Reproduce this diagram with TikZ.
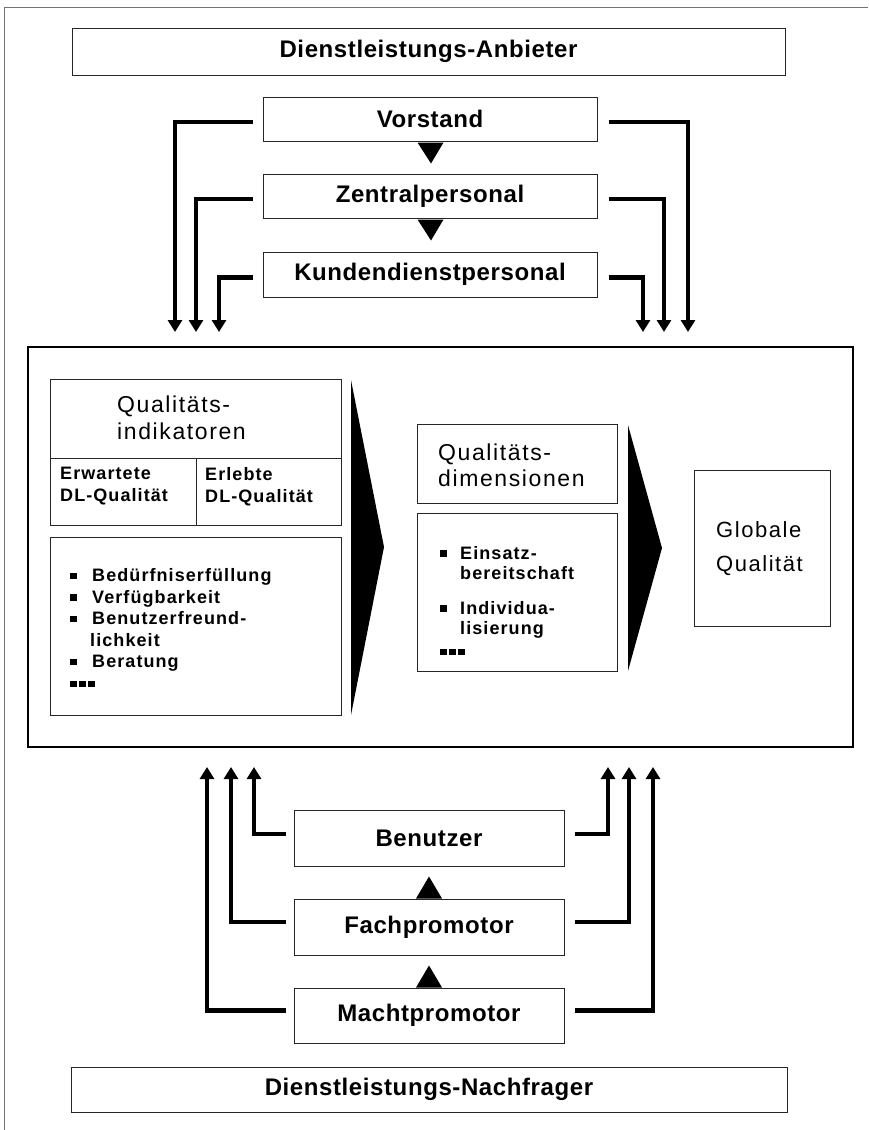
\documentclass[tikz,border=0pt]{standalone}
\usepackage{fontspec}
\setmainfont{Liberation Sans}
\newfontfamily\wide[LetterSpace=7]{Liberation Sans}
\newfontfamily\wideb[LetterSpace=6]{Liberation Sans}
\newfontfamily\lblfont[LetterSpace=2.5]{Liberation Sans}
\usetikzlibrary{arrows.meta,calc}
\newcommand\qbul{\makebox[22pt][l]{\rule[2.5pt]{6.5pt}{6.5pt}}}
\newcommand\qbulb{\makebox[20pt][l]{\rule[2.5pt]{6.5pt}{6.5pt}}}
\newcommand\qdots{\rule[2pt]{7pt}{6pt}\hspace{2pt}\rule[2pt]{7pt}{6pt}\hspace{2pt}\rule[2pt]{7pt}{6pt}}
\begin{document}
\begin{tikzpicture}[x=1pt,y=-1pt,
  box/.style={draw=black!85, line width=1pt, inner sep=0pt},
  lbl/.style={font=\lblfont\fontsize{24}{28}\selectfont\bfseries},
  txt/.style={anchor=north west, inner sep=0pt, align=left},
  fb/.style={line width=4.5pt, -{Triangle[width=14pt,length=12pt]}, miter limit=10},
  tri/.style={fill=black}
]
\useasboundingbox (0,0) rectangle (868,1130);
% page frame
\draw[black!55, line width=0.8pt] (4,1130) -- (4,7) -- (868,7);

% provider side
\node[box,lbl,minimum width=713pt,minimum height=47pt] (anb) at (428.5,51.5) {Dienstleistungs-Anbieter};
\node[box,lbl,minimum width=334pt,minimum height=44pt] (vor) at (430,119) {Vorstand};
\node[box,lbl,minimum width=334pt,minimum height=44pt] (zen) at (430,196) {Zentralpersonal};
\node[box,lbl,minimum width=334pt,minimum height=45pt] (kun) at (430,274.5) {Kundendienstpersonal};

\fill[tri] ($(vor.south)+(-12.5,1)$) -- ($(vor.south)+(13.5,1)$) -- ($(vor.south)+(1,22)$) -- cycle;
\fill[tri] ($(zen.south)+(-12.5,1)$) -- ($(zen.south)+(13.5,1)$) -- ($(zen.south)+(1,22)$) -- cycle;

\coordinate (tl1) at (175,332);
\coordinate (tl2) at (196,332);
\coordinate (tl3) at (219,332);
\coordinate (tr1) at (688,332);
\coordinate (tr2) at (664,332);
\coordinate (tr3) at (643,332);
\draw[fb] ($(vor.west)+(-10,3)$) -| (tl1);
\draw[fb] ($(zen.west)+(-10,3)$) -| (tl2);
\draw[fb] ($(kun.west)+(-10,3)$) -| (tl3);
\draw[fb] ($(vor.east)+(11,3)$) -| (tr1);
\draw[fb] ($(zen.east)+(11,3)$) -| (tr2);
\draw[fb] ($(kun.east)+(11,3)$) -| (tr3);

% main frame
\node[draw, line width=2.5pt, minimum width=825pt, minimum height=400pt, inner sep=0pt] (main) at (440.5,547) {};

% indicators
\node[box,minimum width=291pt,minimum height=79pt] (ih) at (195.5,418.5) {};
\node[box,minimum width=146pt,minimum height=67pt] (erw) at (123,491.5) {};
\node[box,minimum width=145pt,minimum height=67pt] (erl) at (268.5,491.5) {};
\node[box,minimum width=291pt,minimum height=178pt] (li1) at (195.5,626) {};
\node[txt,font=\wide\fontsize{23}{27}\selectfont] (iht) at (117,395.5) {Qualitäts-\\indikatoren};
\node[txt,font=\wideb\bfseries\fontsize{18}{22}\selectfont] (erwt) at (60,467) {Erwartete\\DL-Qualität};
\node[txt,font=\wideb\bfseries\fontsize{18}{22}\selectfont] (erlt) at (205,467) {Erlebte\\DL-Qualität};
\node[txt,font=\wideb\bfseries\fontsize{18}{21.5}\selectfont] (li1t) at (70,568.5)
  {\qbul Bedürfniserfüllung\\ \qbul Verfügbarkeit\\ \qbul Benutzerfreund-\\ \hspace*{20pt}lichkeit\\ \qbul Beratung\\ \qdots};

\fill[tri] (351,380) -- (384,547) -- (351,715) -- cycle;

% dimensions
\node[box,minimum width=200pt,minimum height=79pt] (dh) at (517,463.5) {};
\node[box,minimum width=200pt,minimum height=158pt] (li2) at (517,592) {};
\node[txt,font=\wide\fontsize{23}{26}\selectfont] (dht) at (438,443.5) {Qualitäts-\\dimensionen};
\node[txt,font=\wideb\bfseries\fontsize{18}{20.5}\selectfont] (li2t) at (440,546)
  {\qbulb Einsatz-\\ \hspace*{20pt}bereitschaft\\[14pt] \qbulb Individua-\\ \hspace*{20pt}lisierung\\[2pt] \qdots};

\fill[tri] (628,425) -- (662,548) -- (628,671) -- cycle;

% global quality
\node[box,minimum width=136pt,minimum height=156pt] (gq) at (762,548) {};
\node[txt,font=\wide\fontsize{22}{34}\selectfont] (gqt) at (716,521.5) {Globale\\Qualität};

% demand side
\node[box,lbl,minimum width=270pt,minimum height=56pt] (ben) at (429,838) {Benutzer};
\node[box,lbl,minimum width=270pt,minimum height=56pt] (fach) at (429,927) {Fachpromotor};
\node[box,lbl,minimum width=270pt,minimum height=55pt] (macht) at (429,1015.5) {Machtpromotor};
\node[box,lbl,minimum width=716pt,minimum height=45pt] (nach) at (429,1089.5) {Dienstleistungs-Nachfrager};

\fill[tri] ($(fach.north)+(-13,0)$) -- ($(fach.north)+(13,0)$) -- ($(fach.north)+(0,-22)$) -- cycle;
\fill[tri] ($(macht.north)+(-13,0)$) -- ($(macht.north)+(13,0)$) -- ($(macht.north)+(0,-22)$) -- cycle;

\coordinate (bl1) at (254,767);
\coordinate (bl2) at (231,767);
\coordinate (bl3) at (207,767);
\coordinate (br1) at (608,767);
\coordinate (br2) at (629,767);
\coordinate (br3) at (653,767);
\draw[fb] ($(ben.west)+(-8,-4)$) -| (bl1);
\draw[fb] ($(fach.west)+(-8,-5)$) -| (bl2);
\draw[fb] ($(macht.west)+(-8,-5)$) -| (bl3);
\draw[fb] ($(ben.east)+(10,-4)$) -| (br1);
\draw[fb] ($(fach.east)+(10,-5)$) -| (br2);
\draw[fb] ($(macht.east)+(10,-5)$) -| (br3);
\end{tikzpicture}
\end{document}
